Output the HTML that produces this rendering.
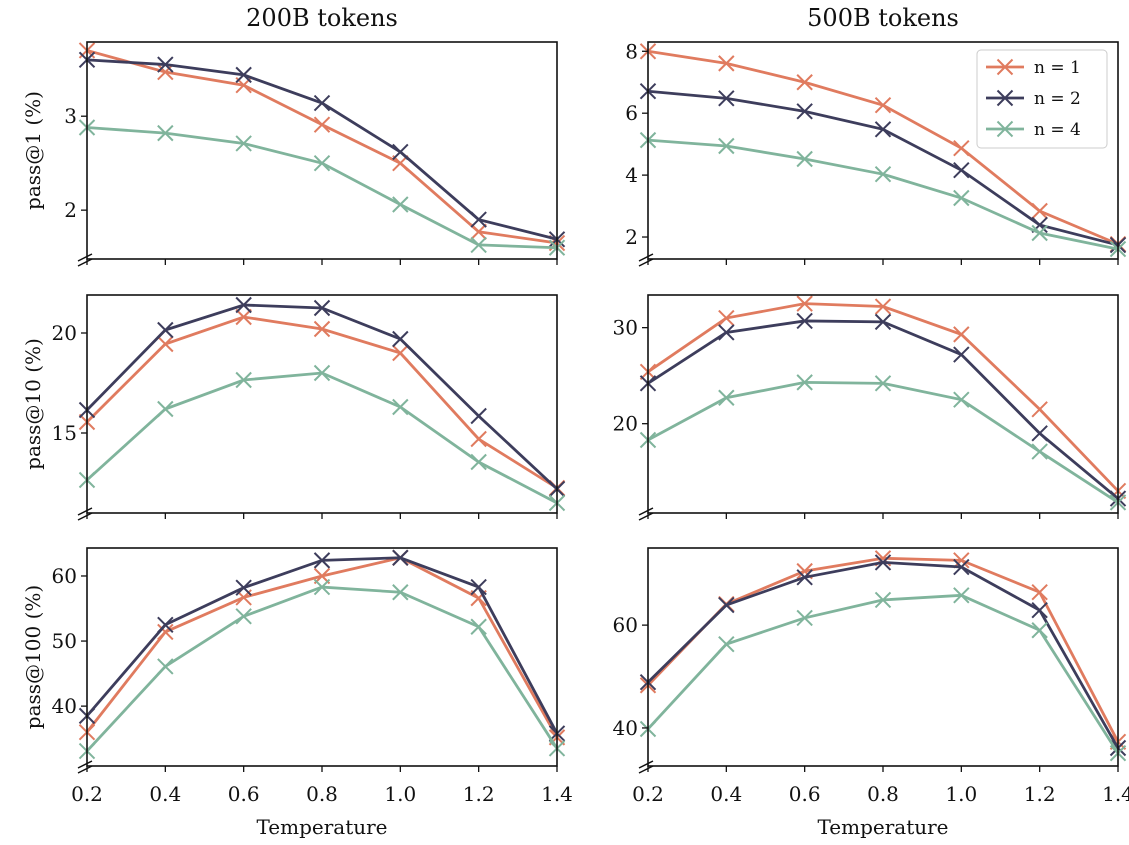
<!DOCTYPE html>
<html><head><meta charset="utf-8"><style>body{margin:0;background:#fff}svg{display:block}text{font-family:"DejaVu Serif","Liberation Serif",serif;fill:#111}</style></head>
<body><svg id="c" width="1129" height="845"></svg>
<script>
const temps=[0.2,0.4,0.6,0.8,1.0,1.2,1.4];
const xTicks=["0.2","0.4","0.6","0.8","1.0","1.2","1.4"];
const seriesNames=["n = 1","n = 2","n = 4"];
const colors=["#e07b5f","#3d3d5c","#80b49c"];
const p1_200_n1=[3.70,3.47,3.33,2.91,2.50,1.77,1.65];
const p1_200_n2=[3.60,3.55,3.44,3.14,2.62,1.90,1.69];
const p1_200_n4=[2.88,2.82,2.71,2.50,2.06,1.63,1.60];
const p1_500_n1=[8.0,7.61,7.0,6.26,4.87,2.84,1.77];
const p1_500_n2=[6.71,6.48,6.06,5.48,4.16,2.39,1.74];
const p1_500_n4=[5.13,4.94,4.52,4.03,3.26,2.13,1.61];
const p10_200_n1=[15.55,19.45,20.8,20.2,19.0,14.7,12.25];
const p10_200_n2=[16.15,20.15,21.4,21.25,19.7,15.85,12.2];
const p10_200_n4=[12.65,16.2,17.65,18.0,16.3,13.55,11.5];
const p10_500_n1=[25.4,31.0,32.5,32.2,29.3,21.5,13.0];
const p10_500_n2=[24.2,29.5,30.7,30.6,27.2,19.0,12.2];
const p10_500_n4=[18.3,22.7,24.3,24.2,22.5,17.1,11.8];
const p100_200_n1=[36.0,51.4,56.7,60.0,62.8,56.6,35.2];
const p100_200_n2=[38.5,52.5,58.2,62.4,62.8,58.3,35.8];
const p100_200_n4=[33.1,46.1,53.8,58.3,57.5,52.2,33.5];
const p100_500_n1=[48.3,64.1,70.5,73.0,72.6,66.4,37.3];
const p100_500_n2=[48.9,63.9,69.3,72.2,71.3,62.9,36.1];
const p100_500_n4=[39.8,56.3,61.4,64.9,65.8,59.0,35.1];
const yTicks1L=[2,3],yTicks1R=[2,4,6,8],yTicks2L=[15,20],yTicks2R=[20,30],yTicks3L=[40,50,60],yTicks3R=[40,60];
const panels=[
 {n:"p1-200",x0:87,x1:557,y0:42,y1:259,lo:1.48,hi:3.79,t:yTicks1L,s:[p1_200_n1,p1_200_n2,p1_200_n4],yl:"pass@1 (%)",title:"200B tokens"},
 {n:"p1-500",x0:648,x1:1118,y0:42,y1:259,lo:1.29,hi:8.3,t:yTicks1R,s:[p1_500_n1,p1_500_n2,p1_500_n4],title:"500B tokens",legend:1},
 {n:"p10-200",x0:87,x1:557,y0:295,y1:513,lo:11,hi:21.9,t:yTicks2L,s:[p10_200_n1,p10_200_n2,p10_200_n4],yl:"pass@10 (%)"},
 {n:"p10-500",x0:648,x1:1118,y0:295,y1:513,lo:10.7,hi:33.4,t:yTicks2R,s:[p10_500_n1,p10_500_n2,p10_500_n4]},
 {n:"p100-200",x0:87,x1:557,y0:548,y1:766,lo:30.8,hi:64.3,t:yTicks3L,s:[p100_200_n1,p100_200_n2,p100_200_n4],yl:"pass@100 (%)",xl:1},
 {n:"p100-500",x0:648,x1:1118,y0:548,y1:766,lo:32.6,hi:75,t:yTicks3R,s:[p100_500_n1,p100_500_n2,p100_500_n4],xl:1}];
const svg=document.getElementById('c');const NS="http://www.w3.org/2000/svg";
function mk(tag,at,par,txt){const e=document.createElementNS(NS,tag);for(const k in at)e.setAttribute(k,at[k]);if(txt!=null)e.textContent=txt;(par||svg).appendChild(e);return e;}
function cross(g,x,y,c){const d=7.5;mk('path',{d:`M${x-d},${y-d}L${x+d},${y+d}M${x-d},${y+d}L${x+d},${y-d}`,stroke:c,'stroke-width':2},g);}
panels.forEach(p=>{
 const g=mk('g',{});
 
 
 const X=v=>p.x0+(v-0.2)/1.2*(p.x1-p.x0);
 const Y=v=>p.y1-(v-p.lo)/(p.hi-p.lo)*(p.y1-p.y0);
 const cp=mk('clipPath',{id:'cl'+p.n},g);mk('rect',{x:p.x0-9,y:p.y0,width:p.x1-p.x0+18,height:p.y1-p.y0},cp);
 p.s.forEach((arr,i)=>{
  const sg=mk('g',{'clip-path':`url(#cl${p.n})`},g);
  
  
  mk('polyline',{points:arr.map((v,j)=>X(temps[j])+','+Y(v)).join(' '),fill:'none',stroke:colors[i],'stroke-width':2.8},sg);
  arr.forEach((v,j)=>cross(sg,X(temps[j]),Y(v),colors[i]));
 });
 mk('rect',{x:p.x0,y:p.y0,width:p.x1-p.x0,height:p.y1-p.y0,fill:'none',stroke:'#111','stroke-width':1.6},g);
 mk('path',{d:`M${p.x0-9},${p.y1+2}L${p.x0+5},${p.y1-5}M${p.x0-9},${p.y1+7}L${p.x0+5},${p.y1}`,stroke:'#111','stroke-width':1.5},g);
 p.t.forEach(t=>{const y=Y(t);mk('line',{x1:p.x0-6,x2:p.x0,y1:y,y2:y,stroke:'#111','stroke-width':1.3},g);
  const tx=mk('text',{x:p.x0-10,y:y+7,'text-anchor':'end','font-size':20},g,String(t));
  });
 temps.forEach((t,j)=>{const x=X(t);mk('line',{x1:x,x2:x,y1:p.y1,y2:p.y1+6,stroke:'#111','stroke-width':1.3},g);
  if(p.xl){const tx=mk('text',{x:x,y:p.y1+35,'text-anchor':'middle','font-size':20},g,xTicks[j]);
  }});
 if(p.xl){const t=mk('text',{x:(p.x0+p.x1)/2,y:834,'text-anchor':'middle','font-size':20},g,'Temperature');
  }
 if(p.yl){const cy=(p.y0+p.y1)/2;const t=mk('text',{x:0,y:0,transform:`translate(40,${cy}) rotate(-90)`,'text-anchor':'middle','font-size':20},g,p.yl);
  }
 if(p.title){const t=mk('text',{x:(p.x0+p.x1)/2,y:26,'text-anchor':'middle','font-size':24},g,p.title);
  }
 if(p.legend){const lg=mk('g',{},g);
  
  mk('rect',{x:977,y:50,width:130,height:98,rx:4,fill:'#fff',stroke:'#ccc','stroke-width':1},lg);
  seriesNames.forEach((nm,i)=>{const y=67+i*31;
   const e=mk('g',{},lg);
   mk('line',{x1:986,x2:1024,y1:y,y2:y,stroke:colors[i],'stroke-width':2.8},e);cross(e,1005,y,colors[i]);
   mk('text',{x:1034,y:y+6,'font-size':17},e,nm);});}
});
</script></body></html>
